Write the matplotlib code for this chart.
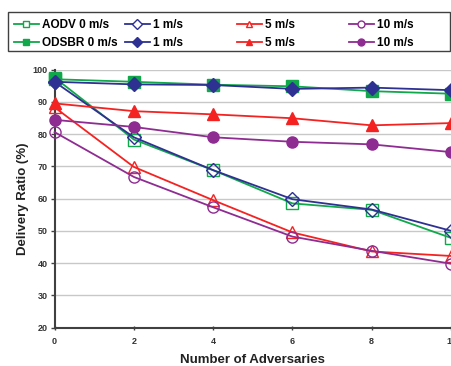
import numpy as np
import matplotlib
matplotlib.use("Agg")
import matplotlib.pyplot as plt
from matplotlib.lines import Line2D
from matplotlib.patches import Rectangle

plt.rcParams['font.family'] = ['Liberation Sans', 'DejaVu Sans']
plt.rcParams['font.weight'] = 'bold'

adversaries = [0, 2, 4, 6, 8, 10]

aodv_0 = [97.5, 78.3, 68.8, 58.5, 56.5, 47.8]
aodv_1 = [96.2, 79.0, 68.8, 59.8, 56.6, 50.0]
aodv_5 = [88.3, 69.8, 59.5, 49.5, 43.6, 42.2]
aodv_10 = [80.6, 66.7, 57.3, 48.2, 43.8, 39.8]

odsbr_0 = [97.0, 96.2, 95.3, 94.8, 93.3, 92.5]
odsbr_1 = [96.2, 95.4, 95.2, 94.0, 94.4, 93.6]
odsbr_5 = [89.5, 87.1, 86.1, 84.9, 82.7, 83.4]
odsbr_10 = [84.4, 82.2, 79.0, 77.6, 76.8, 74.4]

green = '#10a84a'
blue = '#2e3192'
red = '#f52222'
purple = '#8e2c91'

fig = plt.figure(figsize=(4.51, 3.66), dpi=100)
ax = fig.add_axes([0.121, 0.105, 0.879, 0.705])

series = [
    (aodv_0, green, 's', False, 'AODV 0 m/s'),
    (aodv_1, blue, 'D', False, '1 m/s'),
    (aodv_5, red, '^', False, '5 m/s'),
    (aodv_10, purple, 'o', False, '10 m/s'),
    (odsbr_0, green, 's', True, 'ODSBR 0 m/s'),
    (odsbr_1, blue, 'D', True, '1 m/s'),
    (odsbr_5, red, '^', True, '5 m/s'),
    (odsbr_10, purple, 'o', True, '10 m/s'),
]

handles = []
for vals, c, m, filled, lab in series:
    ms = 7.5 if m == 'D' else 8
    ax.plot(adversaries, vals, color=c, lw=1.3, marker=m, ms=ms,
            markerfacecolor=c if filled else 'none', markeredgecolor=c,
            markeredgewidth=1.0, clip_on=False, zorder=3)
    handles.append(Line2D([], [], color=c, lw=1.3, marker=m, ms=5,
                          markerfacecolor=c if filled else 'white',
                          markeredgecolor=c, markeredgewidth=1.0, label=lab))

ax.set_xlim(0, 10)
ax.set_ylim(20, 100)
ax.set_xticks(np.arange(0, 11, 2))
ax.set_yticks(np.arange(20, 101, 10))
ax.yaxis.grid(True, color='#c8c8c8', lw=1.0)
ax.set_axisbelow(True)
for s in ['top', 'right']:
    ax.spines[s].set_visible(False)
for s in ['left', 'bottom']:
    ax.spines[s].set_color('#404040')
    ax.spines[s].set_linewidth(1.5)
ax.tick_params(axis='both', labelsize=6.5, colors='#404040', labelcolor='#333333',
               length=3, width=1)
ax.tick_params(axis='x', direction='inout', pad=5)
ax.tick_params(axis='y', direction='out', pad=2)

ax.set_ylabel('Delivery Ratio (%)', fontsize=9.5, fontweight='bold', color='#222222')
ax.yaxis.set_label_coords(-0.064, 0.5)
ax.set_xlabel('Number of Adversaries', fontsize=9.5, fontweight='bold', color='#222222')
ax.xaxis.set_label_coords(0.5, -0.104)

# legend: four 2-row columns inside one frame
col_x = [12, 123, 235, 347]
for i, x0 in enumerate(col_x):
    fig.legend(handles=[handles[i], handles[i + 4]],
               loc='upper left', bbox_to_anchor=((x0 - 7.5) / 451, 1 - 10 / 366),
               frameon=False, fontsize=8.5, handlelength=2.1, handletextpad=0.3,
               labelspacing=0.5, borderpad=0.3)
fig.add_artist(Rectangle((8 / 451, 1 - 51 / 366), 442 / 451, 39 / 366,
                         transform=fig.transFigure, fill=False,
                         edgecolor='#404040', lw=1.0))

fig.savefig('out.png', dpi=100)
